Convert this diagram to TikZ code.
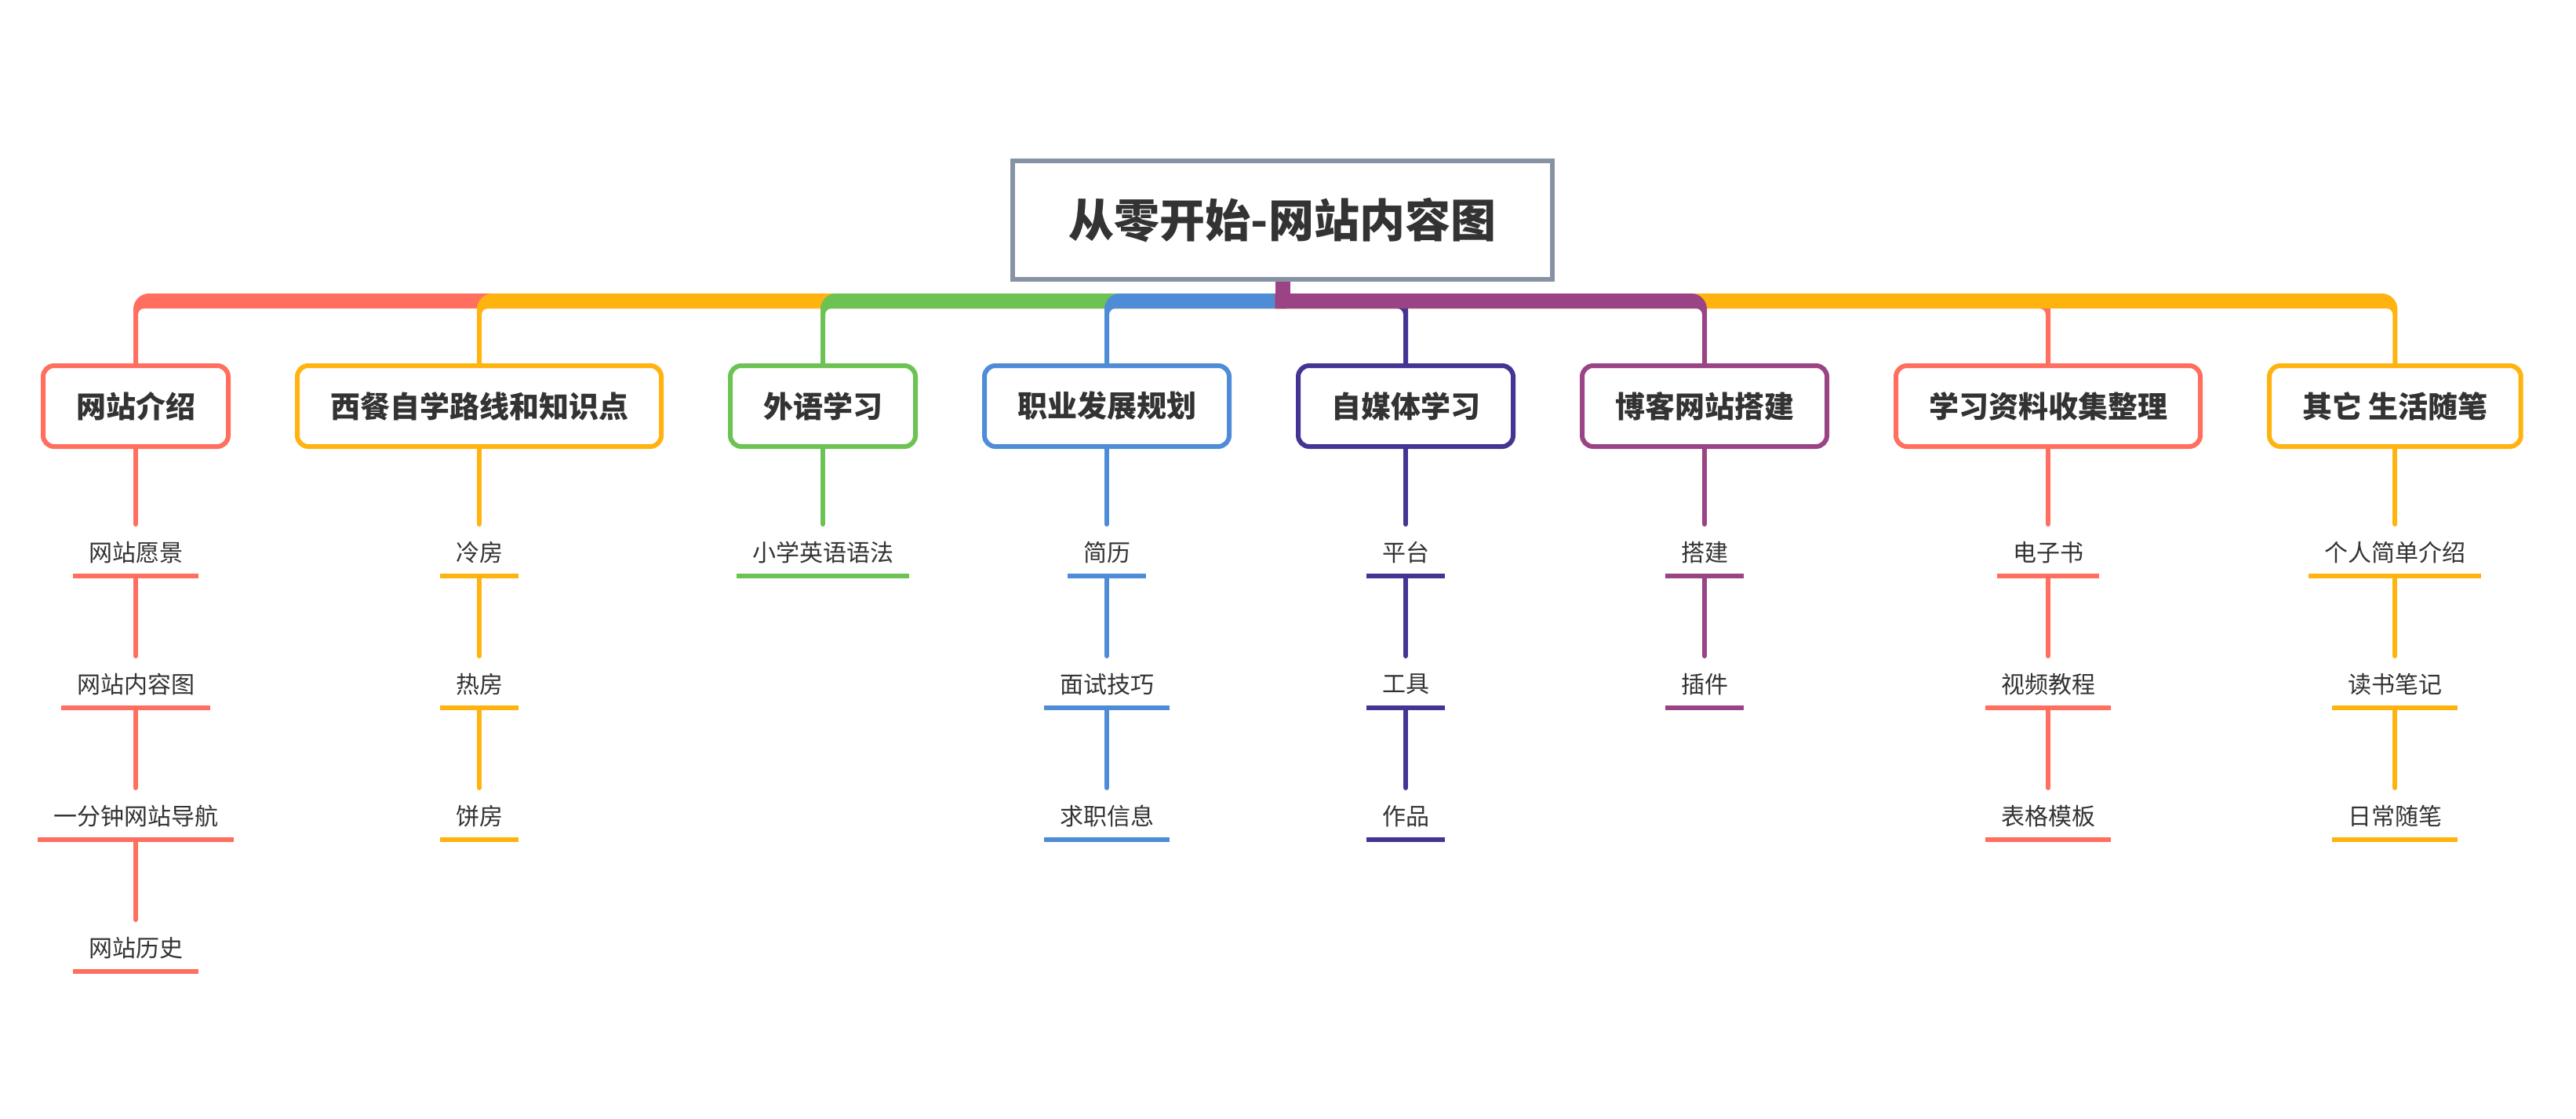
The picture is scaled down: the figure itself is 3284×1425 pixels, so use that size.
\documentclass[tikz,border=0pt]{standalone}
\usepackage{fontspec}
\setmainfont{Noto Sans CJK SC}
\usepackage{xcolor}
\usetikzlibrary{positioning}

\definecolor{cRed}{HTML}{FF6E5E}
\definecolor{cYellow}{HTML}{FFB30F}
\definecolor{cGreen}{HTML}{6CC253}
\definecolor{cBlue}{HTML}{4F8CD8}
\definecolor{cIndigo}{HTML}{433594}
\definecolor{cPurple}{HTML}{9A4486}
\definecolor{cGray}{HTML}{8793A5}
\definecolor{cText}{HTML}{333333}

\begin{document}
\begin{tikzpicture}[
    x=1pt, y=-1pt,
    root/.style={rectangle, draw=cGray, line width=6pt, fill=white, minimum width=688pt, minimum height=151pt, inner sep=0pt, outer sep=0pt, text=cText, font=\bfseries\fontsize{58}{60}\selectfont},
    topic/.style={rectangle, draw=#1, line width=6pt, rounded corners=14pt, fill=white, inner xsep=42pt, inner ysep=0pt, minimum height=103pt, outer sep=0pt, text=cText, font=\bfseries\fontsize{38}{40}\selectfont},
    item/.style={inner xsep=20pt, inner ysep=0pt, minimum height=60pt, outer sep=0pt, text=cText, font=\fontsize{30}{32}\selectfont,
        append after command={(\tikzlastnode.south west) edge[draw=#1, line width=6pt] (\tikzlastnode.south east)}},
    link/.style={draw=#1, line width=6pt, line cap=round, shorten >=6pt},
    node distance=108pt
]
\useasboundingbox[fill=white] (0,0) rectangle (3284,1425);

% 中心主题
\node[root] (Root) at (1635,280.5) {从零开始-网站内容图};

% 一级主题
\node[topic=cRed] (Intro) at (173,517.5) {网站介绍};
\node[topic=cYellow, right=88pt of Intro] (Western) {西餐自学路线和知识点};
\node[topic=cGreen, right=88pt of Western] (Lang) {外语学习};
\node[topic=cBlue, right=88pt of Lang] (Career) {职业发展规划};
\node[topic=cIndigo, right=88pt of Career] (Media) {自媒体学习};
\node[topic=cPurple, right=88pt of Media] (Blog) {博客网站搭建};
\node[topic=cRed, right=88pt of Blog] (Study) {学习资料收集整理};
\node[topic=cYellow, right=88pt of Study] (Others) {其它 生活随笔};

% 二级主题
\node[item=cRed, below=105pt of Intro] (Vision) {网站愿景};
\node[item=cRed, below=of Vision] (SiteMap) {网站内容图};
\node[item=cRed, below=of SiteMap] (QuickNav) {一分钟网站导航};
\node[item=cRed, below=of QuickNav] (History) {网站历史};

\node[item=cYellow, below=105pt of Western] (Cold) {冷房};
\node[item=cYellow, below=of Cold] (Hot) {热房};
\node[item=cYellow, below=of Hot] (Pastry) {饼房};

\node[item=cGreen, below=105pt of Lang] (Grammar) {小学英语语法};

\node[item=cBlue, below=105pt of Career] (Resume) {简历};
\node[item=cBlue, below=of Resume] (Interview) {面试技巧};
\node[item=cBlue, below=of Interview] (JobInfo) {求职信息};

\node[item=cIndigo, below=105pt of Media] (Platform) {平台};
\node[item=cIndigo, below=of Platform] (Tools) {工具};
\node[item=cIndigo, below=of Tools] (Works) {作品};

\node[item=cPurple, below=105pt of Blog] (Setup) {搭建};
\node[item=cPurple, below=of Setup] (Plugin) {插件};

\node[item=cRed, below=105pt of Study] (Ebook) {电子书};
\node[item=cRed, below=of Ebook] (Video) {视频教程};
\node[item=cRed, below=of Video] (Sheet) {表格模板};

\node[item=cYellow, below=105pt of Others] (Profile) {个人简单介绍};
\node[item=cYellow, below=of Profile] (Reading) {读书笔记};
\node[item=cYellow, below=of Reading] (Diary) {日常随笔};

% 主干分支
\coordinate (hub) at ([xshift=-9.5pt]Root.south |- 0,374);
\coordinate (hubL) at ([xshift=5pt]Root.south |- 0,374);
\foreach \n/\c in {Intro/cRed, Western/cYellow, Lang/cGreen, Career/cBlue}
    \fill[\c] ([xshift=-3pt]\n.north) -- ([xshift=-3pt]\n.north |- 0,394) arc[start angle=180, end angle=90, radius=20pt]
        -- (hubL) -- ++(0,19) -- ([xshift=11pt]\n.north |- 0,393) arc[start angle=90, end angle=180, radius=8pt]
        -- ([xshift=3pt]\n.north) -- cycle;
\foreach \n/\c in {Study/cRed, Others/cYellow, Media/cIndigo, Blog/cPurple}
    \fill[\c] ([xshift=3pt]\n.north) -- ([xshift=3pt]\n.north |- 0,394) arc[start angle=0, end angle=90, radius=20pt]
        -- (hub) -- ++(0,19) -- ([xshift=-11pt]\n.north |- 0,393) arc[start angle=90, end angle=0, radius=8pt]
        -- ([xshift=-3pt]\n.north) -- cycle;
\fill[cPurple] ([xshift=-9.5pt,yshift=-3pt]Root.south) rectangle ([xshift=9.5pt]Root.south |- hub);

% 子主题连线
\draw[link=cRed] (Intro) -- (Vision);
\draw[link=cRed] (Vision) -- (SiteMap);
\draw[link=cRed] (SiteMap) -- (QuickNav);
\draw[link=cRed] (QuickNav) -- (History);
\draw[link=cYellow] (Western) -- (Cold);
\draw[link=cYellow] (Cold) -- (Hot);
\draw[link=cYellow] (Hot) -- (Pastry);
\draw[link=cGreen] (Lang) -- (Grammar);
\draw[link=cBlue] (Career) -- (Resume);
\draw[link=cBlue] (Resume) -- (Interview);
\draw[link=cBlue] (Interview) -- (JobInfo);
\draw[link=cIndigo] (Media) -- (Platform);
\draw[link=cIndigo] (Platform) -- (Tools);
\draw[link=cIndigo] (Tools) -- (Works);
\draw[link=cPurple] (Blog) -- (Setup);
\draw[link=cPurple] (Setup) -- (Plugin);
\draw[link=cRed] (Study) -- (Ebook);
\draw[link=cRed] (Ebook) -- (Video);
\draw[link=cRed] (Video) -- (Sheet);
\draw[link=cYellow] (Others) -- (Profile);
\draw[link=cYellow] (Profile) -- (Reading);
\draw[link=cYellow] (Reading) -- (Diary);

\end{tikzpicture}
\end{document}
